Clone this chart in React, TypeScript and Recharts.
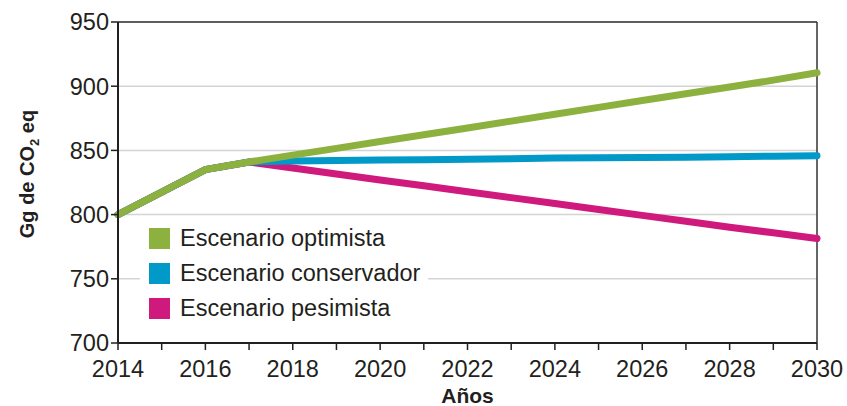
import { LineChart, Line, XAxis, YAxis, CartesianGrid, ReferenceLine } from 'recharts'

const years = [2014, 2015, 2016, 2017, 2018, 2019, 2020, 2021, 2022, 2023, 2024, 2025, 2026, 2027, 2028, 2029, 2030]
const optimista = [800, 817.5, 835, 841, 846.3, 851.6, 856.9, 862.2, 867.5, 872.8, 878.2, 883.5, 888.8, 894.1, 899.4, 904.7, 910.5]
const conservador = [800, 817.5, 835, 841, 841.8, 842.2, 842.6, 842.8, 843.1, 843.5, 844, 844.3, 844.5, 844.7, 845.1, 845.5, 845.8]
const pesimista = [800, 817.5, 835, 841, 836.3, 831.6, 827, 822.4, 817.8, 813.2, 808.6, 804, 799.4, 794.8, 790.2, 785.8, 781.4]
const yTicks = [700, 750, 800, 850, 900, 950]
const xLabelYears = [2014, 2016, 2018, 2020, 2022, 2024, 2026, 2028, 2030]

const series = [
  { key: 'optimista', name: 'Escenario optimista', color: '#8db13f' },
  { key: 'conservador', name: 'Escenario conservador', color: '#0099c8' },
  { key: 'pesimista', name: 'Escenario pesimista', color: '#d0197c' },
]

const data = years.map((year, i) => ({
  year,
  optimista: optimista[i],
  conservador: conservador[i],
  pesimista: pesimista[i],
}))

const font = '"Liberation Sans", Arial, sans-serif'
const textColor = '#231f20'

function LegendBox() {
  return (
    <div
      style={{
        position: 'absolute',
        left: 140,
        top: 221,
        background: '#fff',
        padding: '0 8px 0 9px',
        fontFamily: font,
      }}
    >
      {series.map((s) => (
        <div key={s.key} style={{ display: 'flex', alignItems: 'center', height: 35 }}>
          <div style={{ width: 21, height: 21, background: s.color, marginRight: 10 }} />
          <span style={{ fontSize: 23.5, color: textColor }}>{s.name}</span>
        </div>
      ))}
    </div>
  )
}

function YLabel() {
  return (
    <text
      x={34}
      y={174}
      transform="rotate(-90 34 174)"
      textAnchor="middle"
      fontFamily={font}
      fontSize={20}
      fontWeight="bold"
      fill={textColor}
    >
      Gg de CO
      <tspan fontSize={13} dy={5}>2</tspan>
      <tspan dy={-5}> eq</tspan>
    </text>
  )
}

export default function App() {
  return (
    <div style={{ position: 'absolute', left: 0, top: 0, width: 847, height: 406, background: '#fff' }}>
      <LineChart width={847} height={406} data={data} margin={{ top: 22, right: 30, bottom: 0, left: 0 }}>
        <CartesianGrid vertical={false} stroke="#d4d4d4" strokeWidth={1.5} />
        <XAxis
          dataKey="year"
          type="number"
          domain={[2014, 2030]}
          ticks={years}
          interval={0}
          tickFormatter={(v: number) => (xLabelYears.includes(v) ? String(v) : '')}
          height={63}
          axisLine={{ stroke: textColor, strokeWidth: 2 }}
          tickLine={{ stroke: textColor, strokeWidth: 1.5 }}
          tickSize={7}
          tickMargin={10}
          tick={{ fill: textColor, fontSize: 23.5, fontFamily: font }}
          label={{ value: 'Años', position: 'insideBottom', offset: 3, fill: textColor, fontSize: 21, fontWeight: 'bold', fontFamily: font }}
        />
        <YAxis
          type="number"
          domain={[700, 950]}
          ticks={yTicks}
          interval={0}
          width={118}
          axisLine={{ stroke: textColor, strokeWidth: 2 }}
          tickLine={{ stroke: textColor, strokeWidth: 1.5 }}
          tickSize={7}
          tickMargin={2}
          tick={{ fill: textColor, fontSize: 23.5, fontFamily: font }}
          label={<YLabel />}
        />
        <ReferenceLine y={950} stroke="#333" strokeWidth={1.5} />
        <ReferenceLine x={2030} stroke="#333" strokeWidth={1.5} />
        <Line dataKey="pesimista" name="Escenario pesimista" stroke="#d0197c" strokeWidth={7} dot={false} strokeLinecap="round" isAnimationActive={false} />
        <Line dataKey="conservador" name="Escenario conservador" stroke="#0099c8" strokeWidth={7} dot={false} strokeLinecap="round" isAnimationActive={false} />
        <Line dataKey="optimista" name="Escenario optimista" stroke="#8db13f" strokeWidth={7} dot={false} strokeLinecap="round" isAnimationActive={false} />
      </LineChart>
      <LegendBox />
    </div>
  )
}
